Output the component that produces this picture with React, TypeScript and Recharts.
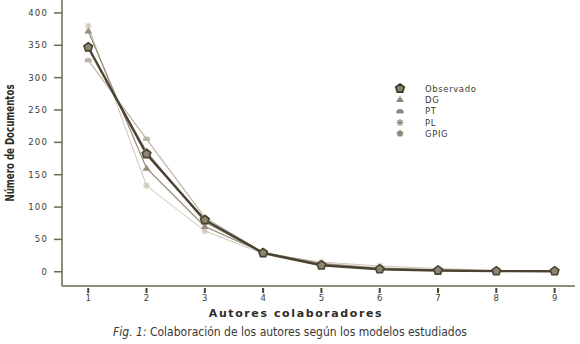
import { LineChart, Line, XAxis, YAxis } from "recharts";

const autores = [1, 2, 3, 4, 5, 6, 7, 8, 9];
const observado = [347, 182, 80, 29, 10, 4, 2, 1, 1];
const dg = [372, 160, 70, 30, 12, 5, 2, 1, 0];
const pt = [327, 205, 84, 30, 13, 6, 3, 1, 0];
const pl = [380, 133, 63, 28, 15, 9, 5, 2, 1];
const gpig = [345, 186, 77, 29, 11, 5, 2, 1, 1];
const yTicks = [0, 50, 100, 150, 200, 250, 300, 350, 400];

const data = autores.map((a, i) => ({
  autores: a,
  observado: observado[i],
  dg: dg[i],
  pt: pt[i],
  pl: pl[i],
  gpig: gpig[i],
}));

const axisColor = "#6e6752";
const tickFont = "'DejaVu Sans', Verdana, sans-serif";
const narrowFont = "'Liberation Sans Narrow', 'DejaVu Sans Condensed', sans-serif";

type Kind = "pentagon" | "triangle" | "dome" | "star" | "smallPentagon";

function Marker({ kind, cx, cy, color }: { kind: Kind; cx: number; cy: number; color: string }) {
  if (kind === "pentagon" || kind === "smallPentagon") {
    const r = kind === "pentagon" ? 4.5 : 3.2;
    const pts = [-90, -18, 54, 126, 198]
      .map((a) => {
        const t = (a * Math.PI) / 180;
        return `${cx + r * Math.cos(t)},${cy + r * Math.sin(t)}`;
      })
      .join(" ");
    return (
      <polygon
        points={pts}
        fill={kind === "pentagon" ? "#8c8570" : color}
        stroke={color}
        strokeWidth={kind === "pentagon" ? 1.6 : 0.8}
      />
    );
  }
  if (kind === "triangle") {
    return (
      <polygon
        points={`${cx},${cy - 3.5} ${cx + 4},${cy + 2.5} ${cx - 4},${cy + 2.5}`}
        fill={color}
      />
    );
  }
  if (kind === "dome") {
    return (
      <path
        d={`M${cx - 3.5},${cy + 2} L${cx - 3.5},${cy} A3.5,2.5 0 0 1 ${cx + 3.5},${cy} L${cx + 3.5},${cy + 2} Z`}
        fill={color}
      />
    );
  }
  return (
    <g stroke={color} strokeWidth={1.1}>
      <line x1={cx - 3.5} y1={cy} x2={cx + 3.5} y2={cy} />
      <line x1={cx} y1={cy - 3.5} x2={cx} y2={cy + 3.5} />
      <line x1={cx - 2.5} y1={cy - 2.5} x2={cx + 2.5} y2={cy + 2.5} />
      <line x1={cx - 2.5} y1={cy + 2.5} x2={cx + 2.5} y2={cy - 2.5} />
    </g>
  );
}

const series: { key: string; name: string; color: string; width: number; kind: Kind }[] = [
  { key: "pl", name: "PL", color: "#cdc7b8", width: 1, kind: "star" },
  { key: "pt", name: "PT", color: "#bcb5a3", width: 1.2, kind: "dome" },
  { key: "dg", name: "DG", color: "#978f7b", width: 1.3, kind: "triangle" },
  { key: "gpig", name: "GPIG", color: "#a9a18d", width: 1.2, kind: "smallPentagon" },
  { key: "observado", name: "Observado", color: "#4a4332", width: 2.4, kind: "pentagon" },
];

const legendOrder = ["observado", "dg", "pt", "pl", "gpig"];

function LegendBox() {
  return (
    <div
      style={{
        position: "absolute",
        left: 394,
        top: 83,
        fontFamily: tickFont,
        fontSize: 8.5,
        color: "#3c3a34",
        letterSpacing: 0.6,
      }}
    >
      {legendOrder.map((k) => {
        const s = series.find((x) => x.key === k)!;
        return (
          <div key={k} style={{ display: "flex", alignItems: "center", height: 11.3 }}>
            <svg width={14} height={11} style={{ marginRight: 17 }}>
              <Marker kind={s.kind} cx={6} cy={5.5} color={k === "observado" ? "#3b3527" : "#8e8876"} />
            </svg>
            <span>{s.name}</span>
          </div>
        );
      })}
    </div>
  );
}

function XTick(props: any) {
  const { x, y, payload } = props;
  return (
    <g>
      <line x1={x} y1={y + 2} x2={x} y2={y + 7} stroke="#4a4535" strokeWidth={2} />
      <text
        x={x}
        y={y + 15}
        textAnchor="middle"
        fontFamily={tickFont}
        fontSize={8.5}
        fill="#3e3b33"
      >
        {payload.value}
      </text>
    </g>
  );
}

export default function App() {
  return (
    <div
      style={{
        position: "absolute",
        left: 0,
        top: 0,
        width: 580,
        height: 344,
        overflow: "hidden",
        background: "#fff",
      }}
    >
      <LineChart
        width={580}
        height={344}
        data={data}
        margin={{ top: 0, right: 5, left: 0, bottom: 28 }}
      >
        <XAxis
          dataKey="autores"
          type="number"
          domain={[0.55, 9.35]}
          ticks={autores}
          height={30}
          tickLine={false}
          tickSize={0}
          tickMargin={0}
          tick={<XTick />}
          stroke={axisColor}
          strokeWidth={1.5}
        />
        <YAxis
          type="number"
          domain={[-22, 420]}
          ticks={yTicks}
          width={62}
          allowDataOverflow
          stroke={axisColor}
          strokeWidth={1.5}
          tickSize={8}
          tickMargin={6}
          tick={{ fontFamily: tickFont, fontSize: 8.5, fill: "#3e3b33", letterSpacing: 1.2 }}
        />
        {series.map((s) => (
          <Line
            key={s.key}
            dataKey={s.key}
            name={s.name}
            type="linear"
            stroke={s.color}
            strokeWidth={s.width}
            isAnimationActive={false}
            dot={(p: any) => (
              <Marker key={`${s.key}-${p.index}`} kind={s.kind} cx={p.cx} cy={p.cy} color={s.color} />
            )}
            activeDot={false}
          />
        ))}
      </LineChart>
      <LegendBox />
      <div
        style={{
          position: "absolute",
          left: 0,
          top: 307,
          width: 580,
          textAlign: "center",
          paddingLeft: 12,
          boxSizing: "border-box",
          fontFamily: tickFont,
          fontWeight: "bold",
          fontSize: 11,
          letterSpacing: 1.6,
          color: "#2f2c26",
          lineHeight: "13px",
        }}
      >
        Autores colaboradores
      </div>
      <div
        style={{
          position: "absolute",
          left: 0,
          top: 325,
          width: 580,
          textAlign: "center",
          fontFamily: narrowFont,
          fontSize: 12,
          lineHeight: "14px",
          color: "#3a3834",
        }}
      >
        <i>Fig. 1:</i> Colaboración de los autores según los modelos estudiados
      </div>
      <div
        style={{
          position: "absolute",
          left: 10,
          top: 143,
          transform: "translate(-50%, -50%) rotate(-90deg) scaleX(0.8)",
          whiteSpace: "nowrap",
          fontFamily: narrowFont,
          fontWeight: "bold",
          fontSize: 12,
          lineHeight: "14px",
          color: "#2f2c26",
        }}
      >
        Número de Documentos
      </div>
    </div>
  );
}
